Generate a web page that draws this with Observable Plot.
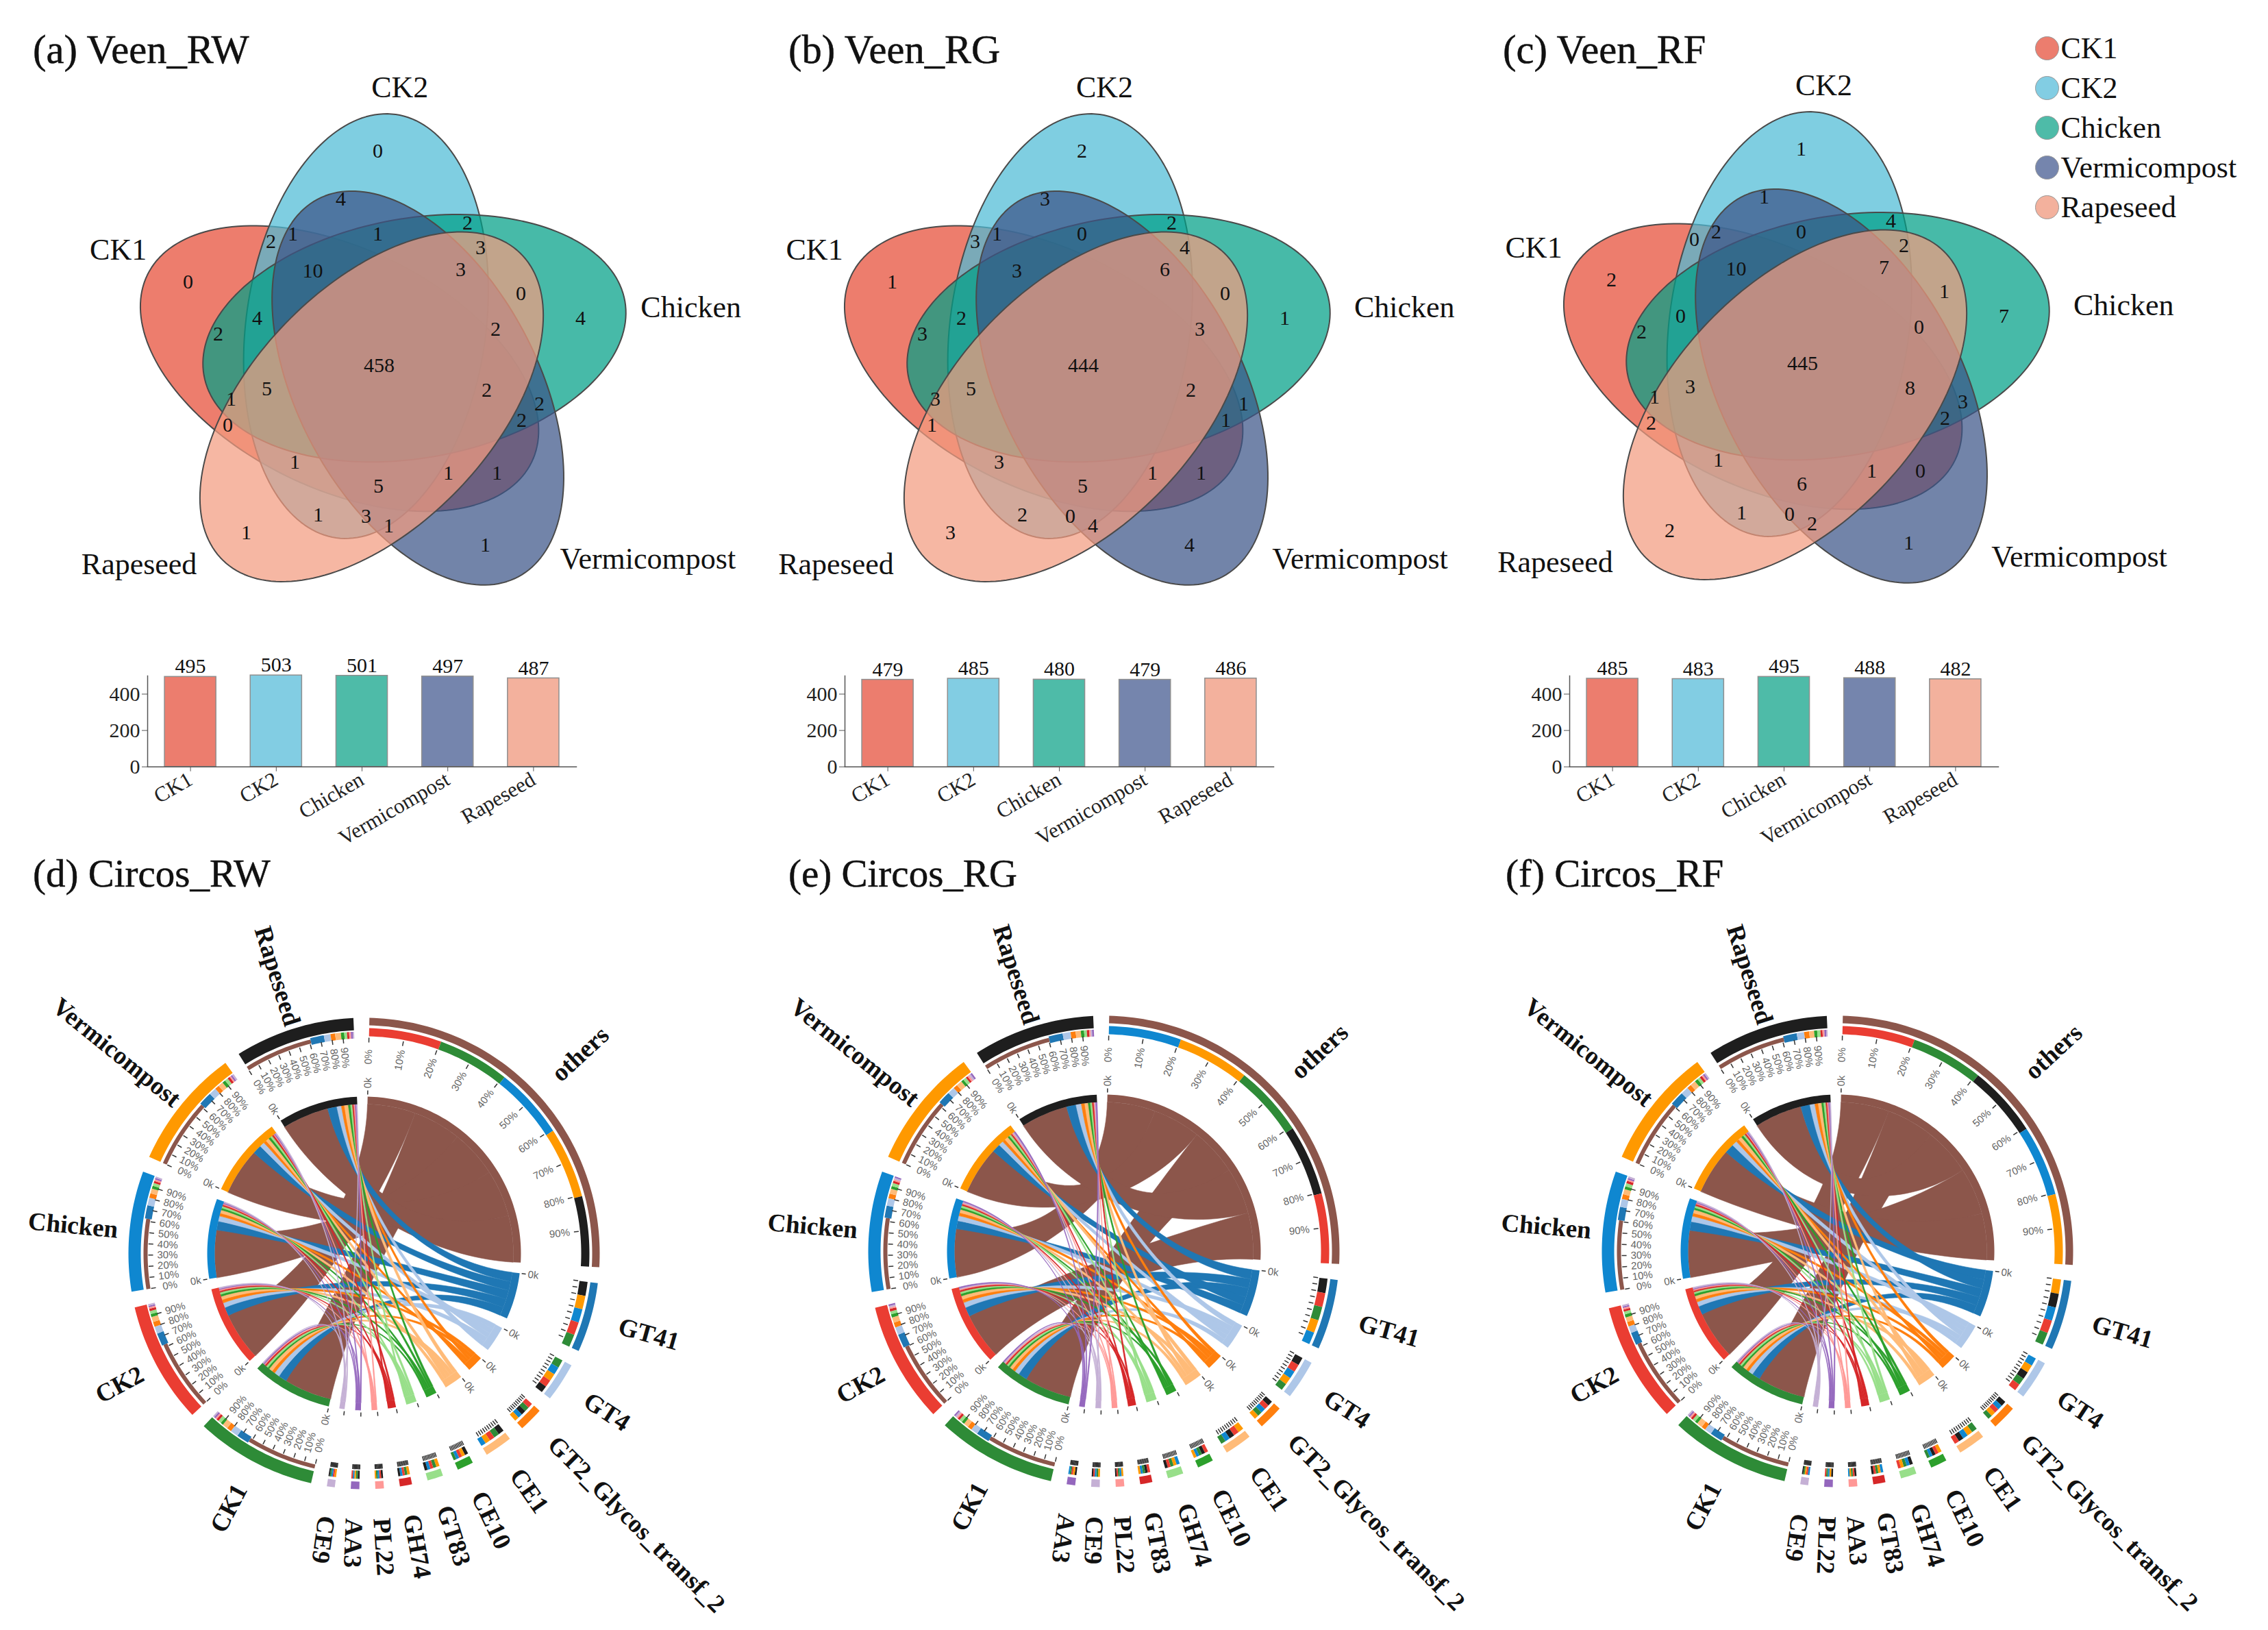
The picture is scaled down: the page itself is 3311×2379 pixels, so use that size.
<!DOCTYPE html>
<html><head><meta charset="utf-8">
<script src="https://cdn.jsdelivr.net/npm/d3@7"></script>
<script src="https://cdn.jsdelivr.net/npm/@observablehq/plot@0.6"></script>
<style>
html,body{margin:0;padding:0;background:#fff}
#page{position:relative;width:3311px;height:2379px;overflow:hidden;background:#fff}
#page>*{position:absolute}
.ttl{font:57px/1 "Liberation Serif",serif;color:#111;white-space:pre;-webkit-text-stroke:0.5px #111}
svg{max-width:none!important}
</style></head><body><div id="page"></div>
<script>
// ---------- data ----------
const sets = ["CK1","CK2","Chicken","Vermicompost","Rapeseed"];
const setCodes = "ABCDE"; // A=CK1 B=CK2 C=Chicken D=Vermicompost E=Rapeseed
const vennRW = {A:0,B:0,C:4,D:1,E:1,AB:2,AC:2,AD:1,AE:0,BC:2,BD:4,BE:1,CD:2,CE:0,DE:1,
  ABC:4,ABD:1,ABE:1,ACD:2,ACE:1,ADE:1,BCD:1,BCE:3,BDE:3,CDE:2,
  ABCD:10,ABCE:5,ABDE:5,ACDE:2,BCDE:3,ABCDE:458};
const vennRG = {A:1,B:2,C:1,D:4,E:3,AB:3,AC:3,AD:1,AE:1,BC:2,BD:3,BE:2,CD:1,CE:0,DE:4,
  ABC:2,ABD:1,ABE:3,ACD:1,ACE:3,ADE:1,BCD:0,BCE:4,BDE:0,CDE:3,
  ABCD:3,ABCE:5,ABDE:5,ACDE:2,BCDE:6,ABCDE:444};
const vennRF = {A:2,B:1,C:7,D:1,E:2,AB:0,AC:2,AD:0,AE:2,BC:4,BD:1,BE:1,CD:3,CE:1,DE:2,
  ABC:0,ABD:2,ABE:1,ACD:2,ACE:1,ADE:1,BCD:0,BCE:2,BDE:0,CDE:0,
  ABCD:10,ABCE:3,ABDE:6,ACDE:8,BCDE:7,ABCDE:445};
const totalsRW = [495,503,501,497,487];
const totalsRG = [479,485,480,479,486];
const totalsRF = [485,483,495,488,482];
// enzyme families clockwise from the top; rows are CK1, CK2, Chicken, Vermicompost, Rapeseed
const familiesRW = ["others","GT41","GT4","GT2_Glycos_transf_2","CE1","CE10","GT83","GH74","PL22","AA3","CE9"];
const familiesRG = ["others","GT41","GT4","GT2_Glycos_transf_2","CE1","CE10","GH74","GT83","PL22","CE9","AA3"];
const familiesRF = ["others","GT41","GT4","GT2_Glycos_transf_2","CE1","CE10","GH74","GT83","AA3","PL22","CE9"];
const abundRW = [
 [61.8,62.3,61.4,60.8,60.2],[10.8,11.2,11.5,11.7,12.0],[6.9,6.2,6.7,6.4,5.8],[4.1,4.3,3.9,3.8,4.0],
 [4.7,4.5,4.2,4.4,5.0],[2.4,2.7,2.6,2.8,2.9],[2.7,2.6,2.5,2.8,2.4],[2.1,2.0,1.9,2.2,1.8],
 [1.3,1.5,1.4,1.2,1.6],[1.5,1.2,1.3,1.4,1.6],[1.2,1.4,1.3,1.5,1.1]];
const abundRG = [
 [61.2,60.0,62.4,61.9,60.6],[11.7,12.1,10.6,11.0,12.4],[6.0,6.7,6.5,6.2,6.9],[3.9,4.3,4.1,3.8,4.4],
 [4.1,4.7,4.3,4.9,4.5],[2.6,2.9,2.5,2.4,2.8],[2.6,2.5,2.8,2.7,2.4],[2.0,2.2,1.9,1.8,2.1],
 [1.4,1.3,1.5,1.6,1.2],[1.5,1.3,1.4,1.6,1.2],[1.3,1.4,1.2,1.5,1.6]];
const abundRF = [
 [61.9,62.4,60.7,60.1,61.3],[10.7,11.1,11.5,12.3,11.9],[6.1,5.9,7.0,6.7,6.4],[3.7,4.0,4.2,3.9,4.4],
 [4.9,4.1,4.5,4.7,4.3],[2.5,2.8,2.6,2.9,2.7],[2.6,2.4,2.7,2.5,2.8],[2.0,1.9,2.2,2.1,1.8],
 [1.4,1.5,1.2,1.3,1.6],[1.3,1.2,1.4,1.5,1.6],[1.2,1.4,1.5,1.3,1.1]];
const percentTicks = ["0%","10%","20%","30%","40%","50%","60%","70%","80%","90%"];

// ---------- styles ----------
const serif = '"Liberation Serif","Times New Roman",serif';
const vennColors = ["#E64B35","#4DBBD5","#00A087","#3C5488","#F39B7F"];
const barColors = ["#EC7D6E","#82CDE3","#4EBBA8","#7585AD","#F3B19D"];
const sampleColors = ["#2e8b37","#ea3d32","#0f87d0","#ff9900","#1e1e1e"];
const brown="#8c564b",blue="#1f77b4",lblue="#aec7e8",org="#ff7f0e",lorg="#ffbb78",grn="#2ca02c",lgrn="#98df8a",red="#d62728",pink="#ff9896",pur="#9467bd",lpur="#c5b0d5";
const famColorsRW = [brown,blue,lblue,org,lorg,grn,lgrn,red,pink,pur,lpur];
const famColorsRG = [brown,blue,lblue,org,lorg,grn,lgrn,red,pink,lpur,pur];
const famColorsRF = [brown,blue,lblue,org,lorg,grn,lgrn,red,pink,pur,lpur];

const page = document.getElementById("page");
function place(node,left,top){node.style.left=left+"px";node.style.top=top+"px";node.style.position="absolute";page.appendChild(node);}
function title(txt,left,baseline,size){const d=document.createElement("div");d.className="ttl";d.textContent=txt;d.style.fontSize=size+"px";place(d,left,baseline-size*0.89);}

// ---------- Venn ----------
const ellA=312, ellB=175, ellOff=62, ellBase=-22, tiltBase=8;
function ellipses(){
  return sets.map((s,i)=>{
    const k=(i+4)%5;
    const ang=(ellBase+72*k)*Math.PI/180, tilt=(tiltBase+72*k)*Math.PI/180;
    return {s,i,cx:ellOff*Math.sin(ang),cy:-ellOff*Math.cos(ang),ux:Math.sin(tilt),uy:-Math.cos(tilt)};
  });
}
const ells=ellipses();
function ellipsePts(e){
  return d3.range(0,360,2).map(t=>{
    const r=t*Math.PI/180,p=ellA*Math.cos(r),q=ellB*Math.sin(r);
    return {x:e.cx+p*e.ux-q*e.uy,y:e.cy+p*e.uy+q*e.ux,set:e.s,fill:vennColors[e.i]};
  });
}
const ellipsePoints=ells.flatMap(ellipsePts);
// widest spot of each of the 31 regions, then a small hand nudge toward where the figure sets its number
const regionNudge={A:[-23,6],B:[-42,-23],C:[4,-17],D:[13,6],E:[4,36],AB:[6,-21],AC:[-15,-38],AD:[-8,19],AE:[-23,-25],
  BC:[19,2],BD:[-2,-27],BE:[-15,8],CD:[2,30],CE:[21,25],DE:[-32,6],ABC:[-2,-19],ABD:[-8,-8],ABE:[-25,-15],
  ACD:[-2,4],ACE:[-8,-11],ADE:[-19,11],BCD:[4,-6],BCE:[6,-2],BDE:[-15,0],CDE:[-8,13],ABCD:[11,-6],ABCE:[-8,-32],
  ABDE:[-21,4],ACDE:[-15,-6],BCDE:[25,8],ABCDE:[-4,0]};
const regionAnchor=(()=>{
  const best={};
  for(let x=-360;x<=400;x+=2)for(let y=-380;y<=380;y+=2){
    let sig="",clear=1e9;
    ells.forEach((e,i)=>{
      const dx=x-e.cx,dy=y-e.cy,p=dx*e.ux+dy*e.uy,q=-dx*e.uy+dy*e.ux;
      const v=Math.sqrt(p*p/(ellA*ellA)+q*q/(ellB*ellB));
      if(v<1)sig+=setCodes[i];
      clear=Math.min(clear,Math.abs(v-1));
    });
    if(sig&&(!best[sig]||clear>best[sig].c))best[sig]={x,y,c:clear};
  }
  for(const k in best){best[k].x+=regionNudge[k][0];best[k].y+=regionNudge[k][1];}
  return best;
})();
const vennLabelPolar=[[293.6,420],[3.7,406],[79.4,459],[126,480],[230.7,458]];
function venn(vals,cx,cy,labelScaleX){
  const W=1100,H=960;
  const nums=Object.entries(vals).map(([k,v])=>({...regionAnchor[k],v}));
  const names=sets.map((s,i)=>{const [a,r]=vennLabelPolar[i],t=a*Math.PI/180;return {s,x:labelScaleX*r*Math.sin(t),y:-r*Math.cos(t)};});
  const svg=Plot.plot({width:W,height:H,margin:0,style:{overflow:"visible",background:"transparent",fontFamily:serif},
    x:{domain:[-W/2,W/2],axis:null},y:{domain:[H/2,-H/2],axis:null},color:{type:"identity"},
    marks:[
      Plot.line(ellipsePoints,{x:"x",y:"y",z:"set",fill:"fill",fillOpacity:0.72,stroke:"#4a4a4a",strokeWidth:2,curve:"linear-closed"}),
      Plot.text(nums,{x:"x",y:"y",text:d=>String(d.v),fontSize:30,fill:"#111",fontFamily:serif}),
      Plot.text(names,{x:"x",y:"y",text:"s",fontSize:44,fill:"#111",fontFamily:serif})
    ]});
  place(svg,cx-W/2,cy-H/2);
}

// ---------- bars ----------
function bars(totals,left){
  const mL=80,mT=40,mB=140,mR=30;
  const rows=sets.map((s,i)=>({s,v:totals[i],c:barColors[i]}));
  const svg=Plot.plot({width:626+mL+mR,height:132.7+mT+mB,marginLeft:mL,marginTop:mT,marginBottom:mB,marginRight:mR,
    style:{overflow:"visible",background:"transparent",fontFamily:serif,color:"#222"},
    x:{domain:sets,paddingInner:0.4,paddingOuter:0.2,round:false,axis:null},
    y:{domain:[0,500],axis:null},color:{type:"identity"},
    marks:[
      Plot.barY(rows,{x:"s",y:"v",fill:"c",stroke:"#8f8f8f",strokeWidth:1.5}),
      Plot.text(rows,{x:"s",y:"v",text:d=>String(d.v),dy:-15,fontSize:30,fill:"#111",fontFamily:serif}),
      Plot.axisY({ticks:[0,200,400],tickSize:8,tickPadding:3,fontSize:30,label:null,stroke:"#555",fontFamily:serif}),
      Plot.axisX({tickRotate:-30,tickSize:7,tickPadding:9,fontSize:31,label:null,stroke:"#555",fontFamily:serif}),
      Plot.frame({anchor:"left",stroke:"#555",strokeWidth:1.5}),
      Plot.frame({anchor:"bottom",stroke:"#555",strokeWidth:1.5})
    ]});
  place(svg,left-mL,985.8-mT);
}

// ---------- chord ----------
const R={bandOut:344,famBandIn:333,famCompOut:329,famCompIn:317,smpBandIn:326,smpCompOut:322,smpCompIn:316,tickOut:315,tickIn:308,pct:287,innerOut:229,innerIn:218,kTickIn:232,kTickOut:238,kText:249};
const gapDeg=3.9,startDeg=1.3,ribbonPull=0.42;
const sampleLabelEnd=[384,368,361,351,349];
const rad=d=>d*Math.PI/180;
const polar=(deg,r)=>({x:r*Math.sin(rad(deg)),y:-r*Math.cos(rad(deg))});
function arcPts(a0,a1,r){const n=Math.max(2,Math.ceil(Math.abs(a1-a0)/1.2)+1);return d3.range(n).map(i=>polar(a0+(a1-a0)*i/(n-1),r));}
function chord(families,famColors,abund,cx,cy){
  const W=1240,H=1140;
  // every value sits on two sectors: its enzyme family and its sample
  const total=2*d3.sum(abund.flat());
  const unit=(360-(families.length+sets.length)*gapDeg)/total;
  let pos=startDeg,polys=[],ribbons=[],ticks=[],pctText=[],kText=[],famText=[],smpText=[],pid=0;
  const poly=(a0,a1,r0,r1,fill)=>{pid++;const id="p"+pid;
    arcPts(a0,a1,r1).concat(arcPts(a1,a0,r0)).forEach(p=>polys.push({...p,id,fill}));};
  const addTicks=(a0,span,labelled)=>{
    percentTicks.forEach((t,i)=>{
      const a=a0+span*i/10,p=polar(a,R.tickOut),q=polar(a,R.tickIn);
      ticks.push({x1:p.x,y1:p.y,x2:q.x,y2:q.y});
      if(labelled){const m=polar(a,R.pct);const rot=a<180?a-90:a-270;pctText.push({...m,t,rot});}
    });
  };
  const addK=(a,labelled)=>{
    const p=polar(a,R.kTickOut),q=polar(a,R.kTickIn);ticks.push({x1:p.x,y1:p.y,x2:q.x,y2:q.y});
    if(labelled){const m=polar(a,R.kText);kText.push({...m,t:"0k",rot:a<180?a-90:a-270});}
  };
  // enzyme sectors: the composition ring and the ribbon feet both run largest share first
  const famArc=families.map((f,i)=>{
    const vals=abund[i],span=d3.sum(vals)*unit,a0=pos,a1=pos+span,c=famColors[i];pos=a1+gapDeg;
    poly(a0,a1,R.famBandIn,R.bandOut,c);
    poly(a0,a1,R.innerIn,R.innerOut,c);
    let s=a0;const slots={};
    d3.range(5).sort((p,q)=>vals[q]-vals[p]).forEach(j=>{const w=vals[j]*unit;poly(s,s+w,R.famCompIn,R.famCompOut,sampleColors[j]);slots[j]=[s,s+w];s+=w;});
    addTicks(a0,span,i===0);
    addK(a0,i<5);
    const mid=(a0+a1)/2,m=polar(mid,i===0?380:387);
    famText.push({...m,t:f,rot:mid-90});
    return {slots,c};
  });
  // sample sectors
  sets.forEach((sname,j)=>{
    const span=d3.sum(abund,r=>r[j])*unit,a0=pos,a1=pos+span,c=sampleColors[j];pos=a1+gapDeg;
    poly(a0,a1,R.smpBandIn,R.bandOut,c);
    poly(a0,a1,R.innerIn,R.innerOut,c);
    let s=a0;
    families.forEach((f,i)=>{
      const w=abund[i][j]*unit;
      poly(s,s+w,i===0?R.smpCompIn:R.smpCompIn-2,i===0?R.smpCompOut:R.smpCompOut+2,famColors[i]);
      const [f0,f1]=famArc[i].slots[j];
      const id="r"+i+"_"+j;
      const A=polar(s,R.innerIn),B=polar(s+w,R.innerIn),C=polar(f0,R.innerIn),D=polar(f1,R.innerIn);
      const bez=(P,Q)=>d3.range(1,40).map(k=>{const t=k/40,u=1-t,a=u*u*u,b=3*u*u*t*ribbonPull,c2=3*u*t*t*ribbonPull,d=t*t*t;
        return {x:(a+b)*P.x+(c2+d)*Q.x,y:(a+b)*P.y+(c2+d)*Q.y};});
      const pts=[...arcPts(s,s+w,R.innerIn),...bez(B,C),...arcPts(f0,f1,R.innerIn),...bez(D,A)];
      ribbons.push({order:i,pts:pts.map(p=>({...p,id,fill:famArc[i].c}))});
      s+=w;
    });
    addTicks(a0,span,true);
    addK(a0,true);
    const mid=(a0+a1)/2,m=polar(mid,sampleLabelEnd[j]);
    smpText.push({...m,t:sname,rot:mid-270});
  });
  const ribbonPts=ribbons.sort((a,b)=>a.order-b.order).flatMap(r=>r.pts);
  const sans='"Liberation Sans",Arial,sans-serif';
  const svg=Plot.plot({width:W,height:H,margin:0,style:{overflow:"visible",background:"transparent",fontFamily:serif},
    x:{domain:[-W/2,W/2],axis:null},y:{domain:[H/2,-H/2],axis:null},color:{type:"identity"},
    marks:[
      Plot.line(ribbonPts,{x:"x",y:"y",z:"id",fill:"fill",stroke:"fill",strokeWidth:0.6,curve:"linear-closed"}),
      Plot.line(polys,{x:"x",y:"y",z:"id",fill:"fill",stroke:"none",curve:"linear-closed"}),
      Plot.link(ticks,{x1:"x1",y1:"y1",x2:"x2",y2:"y2",stroke:"#333",strokeWidth:1.5}),
      Plot.text(pctText,{x:"x",y:"y",text:"t",rotate:"rot",fontSize:15,fill:"#666",fontFamily:sans}),
      Plot.text(kText,{x:"x",y:"y",text:"t",rotate:"rot",fontSize:15,fill:"#666",fontFamily:sans}),
      Plot.text(famText,{x:"x",y:"y",text:"t",rotate:"rot",textAnchor:"start",fontSize:37,fontWeight:"bold",fill:"#111",fontFamily:serif}),
      Plot.text(smpText,{x:"x",y:"y",text:"t",rotate:"rot",textAnchor:"end",fontSize:37,fontWeight:"bold",fill:"#111",fontFamily:serif})
    ]});
  place(svg,cx-W/2,cy-H/2);
}

// ---------- legend ----------
function legend(){
  const svg=Plot.plot({width:351,height:292,marginTop:29,marginBottom:29,marginLeft:0,marginRight:0,
    style:{overflow:"visible",background:"transparent",fontFamily:serif},
    y:{type:"point",domain:sets,padding:0,axis:null},color:{type:"identity"},
    marks:[
      Plot.dot(sets,{frameAnchor:"left",dx:28,y:d=>d,r:17,fill:(d,i)=>barColors[i],stroke:"#999",strokeWidth:1}),
      Plot.text(sets,{frameAnchor:"left",dx:48,y:d=>d,text:d=>d,textAnchor:"start",fontSize:44,fill:"#111",fontFamily:serif})
    ]});
  place(svg,2960,40);
}

// ---------- compose ----------
title("(a) Veen_RW",48,96,58.5);title("(b) Veen_RG",1151,96,58.5);title("(c) Veen_RF",2194,96,58.5);
title("(d) Circos_RW",48,1297,57);title("(e) Circos_RG",1151,1297,57);title("(f) Circos_RF",2198,1297,57);
venn(vennRW,557,533,1);venn(vennRG,1585,533,1.03);venn(vennRF,2635,530,1.03);
bars(totalsRW,215);bars(totalsRG,1233);bars(totalsRF,2291);
chord(familiesRW,famColorsRW,abundRW,531,1829);
chord(familiesRG,famColorsRG,abundRG,1611,1826);
chord(familiesRF,famColorsRF,abundRF,2682,1826);
legend();
</script></body></html>
